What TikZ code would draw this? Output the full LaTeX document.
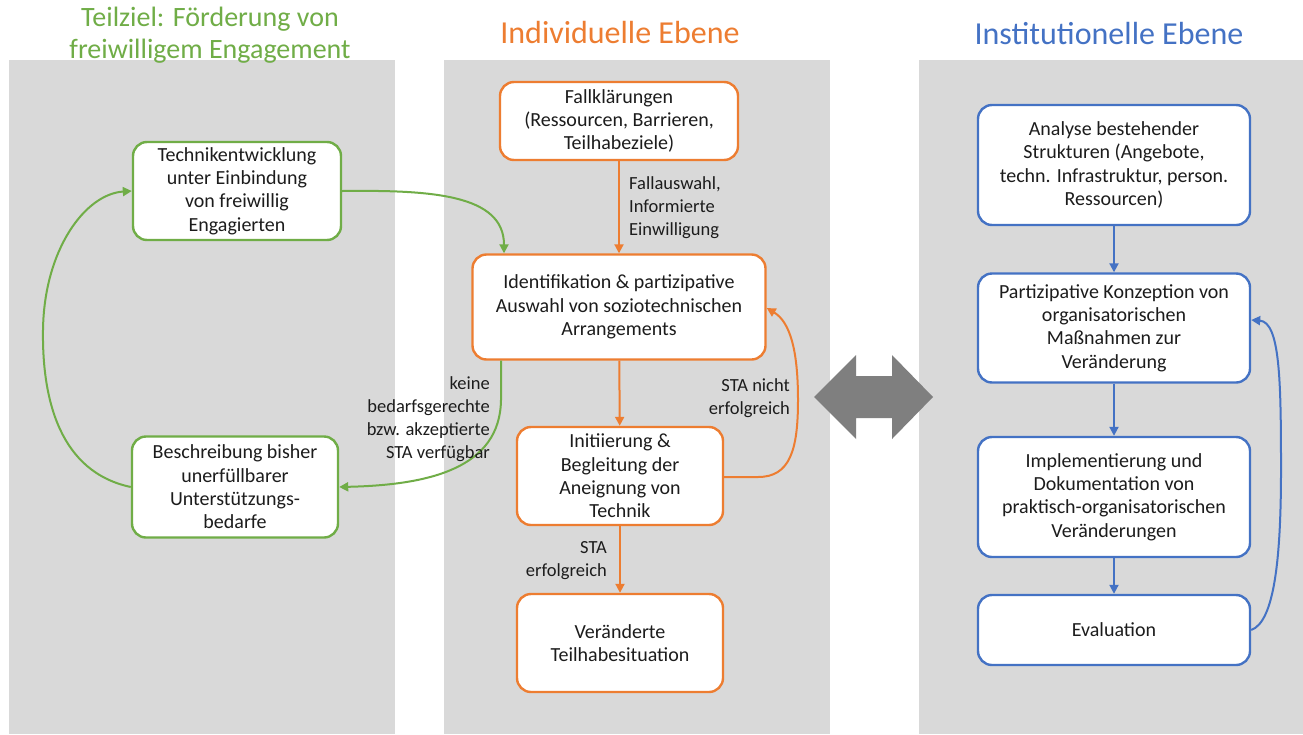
\documentclass[tikz,border=0pt]{standalone}
\usepackage{fontspec}
\setmainfont{Carlito}
\usetikzlibrary{arrows.meta}
\definecolor{cgreen}{RGB}{112,173,71}
\definecolor{corange}{RGB}{237,125,49}
\definecolor{cblue}{RGB}{68,114,196}
\definecolor{cpanel}{RGB}{217,217,217}
\definecolor{ctext}{RGB}{28,28,28}
\definecolor{cdarrow}{RGB}{127,127,127}
\begin{document}
\begin{tikzpicture}[x=1pt,y=-1pt,
  box/.style={draw, fill=white, rounded corners=14pt, line width=2.4pt, text=ctext, align=center,
    font=\fontsize{20}{23.3}\selectfont, inner sep=3pt},
  gbox/.style={box, draw=cgreen},
  obox/.style={box, draw=corange},
  bbox/.style={box, draw=cblue},
  lbl/.style={text=ctext, font=\fontsize{18.5}{23}\selectfont, inner sep=0pt},
  conn/.style={line width=2pt, -{Triangle[length=9pt,width=9pt]}},
  title/.style={inner sep=0pt},
  panel/.style={fill=cpanel, draw=none}
]
\useasboundingbox (0,0) rectangle (1303,734);
\fill[white] (0,0) rectangle (1303,734);
% panels
\fill[panel] (9,60) rectangle (395,734);
\fill[panel] (444,60) rectangle (830,734);
\fill[panel] (919,60) rectangle (1303,734);

% titles
\node[title, text=cgreen, align=center, font=\fontsize{28}{32}\selectfont] (tgreen) at (210,35) {Teilziel: Förderung von\\freiwilligem Engagement};
\node[title, text=corange, anchor=base, font=\fontsize{32}{38}\selectfont] (torange) at (620,43) {Individuelle Ebene};
\node[title, text=cblue, anchor=base, font=\fontsize{32}{38}\selectfont] (tblue) at (1109,44) {Institutionelle Ebene};

% green nodes
\node[gbox, minimum width=208pt, minimum height=98pt] (tech) at (237,191) {Technikentwicklung\\unter Einbindung\\von freiwillig\\Engagierten};
\node[gbox, minimum width=206pt, minimum height=101pt] (besch) at (235,487) {Beschreibung bisher\\unerfüllbarer\\Unterstützungs-\\bedarfe};

% orange nodes
\node[obox, minimum width=238pt, minimum height=78pt] (fall) at (619,121) {Fallklärungen\\(Ressourcen, Barrieren,\\Teilhabeziele)};
\node[obox, minimum width=293pt, minimum height=105pt] (ident) at (619,307) {Identifikation \& partizipative\\Auswahl von soziotechnischen\\Arrangements};
\node[obox, minimum width=206pt, minimum height=98pt] (init) at (620,476) {Initiierung \&\\Begleitung der\\Aneignung von\\Technik};
\node[obox, minimum width=206pt, minimum height=98pt] (veraend) at (620,643) {Veränderte\\Teilhabesituation};

% blue nodes
\node[bbox, minimum width=272pt, minimum height=120pt] (analyse) at (1114,165) {Analyse bestehender\\Strukturen (Angebote,\\techn. Infrastruktur, person.\\Ressourcen)};
\node[bbox, minimum width=272pt, minimum height=109pt] (partiz) at (1114,328) {Partizipative Konzeption von\\organisatorischen\\Maßnahmen zur\\Veränderung};
\node[bbox, minimum width=272pt, minimum height=120pt] (impl) at (1114,497) {Implementierung und\\Dokumentation von\\praktisch-organisatorischen\\Veränderungen};
\node[bbox, minimum width=272pt, minimum height=70pt] (eval) at (1114,630) {Evaluation};

% orange connectors
\draw[conn, corange] (fall) -- (ident);
\draw[conn, corange] (ident) -- (init);
\draw[conn, corange] (init) -- (veraend);
\draw[conn, corange] ([yshift=-1pt]init.east) -- (758,477) .. controls (790,477) and (798,450) .. (798,400)
   .. controls (798,350) and (790,322) .. ([yshift=-1pt]ident.east);

% green connectors
\draw[conn, cgreen] (tech.east) .. controls (430,190) and (504,194) .. ([xshift=-115pt]ident.north);
\draw[conn, cgreen] ([xshift=-118pt]ident.south) -- (501,400) .. controls (500,468) and (430,485) .. (besch.east);
\draw[conn, cgreen] (besch.west) .. controls (60,472) and (42,400) .. (43,330)
   .. controls (44,250) and (85,194) .. (tech.west);

% blue connectors
\draw[conn, cblue] (analyse) -- (partiz);
\draw[conn, cblue] (partiz) -- (impl);
\draw[conn, cblue] (impl) -- (eval);
\draw[conn, cblue] (eval.east) .. controls (1274,622) and (1281,560) .. (1281,470)
   .. controls (1281,380) and (1280,322) .. ([yshift=8pt]partiz.east);

% labels
\node[lbl, anchor=west, align=left] (lfall) at (629,208) {Fallauswahl,\\Informierte\\Einwilligung};
\node[lbl, anchor=east, align=right] (lerf) at (607,561) {STA\\erfolgreich};
\node[lbl, anchor=east, align=right] (lnicht) at (790,398) {STA nicht\\erfolgreich};
\node[lbl, anchor=east, align=right] (lkeine) at (490,419) {keine\\bedarfsgerechte\\bzw. akzeptierte\\STA verfügbar};

% double arrow between levels
\fill[cdarrow] (814,397) -- (856,355) -- (856,376) -- (892,376) -- (892,355) -- (933,397)
   -- (892,439) -- (892,418) -- (856,418) -- (856,439) -- cycle;
\end{tikzpicture}
\end{document}
